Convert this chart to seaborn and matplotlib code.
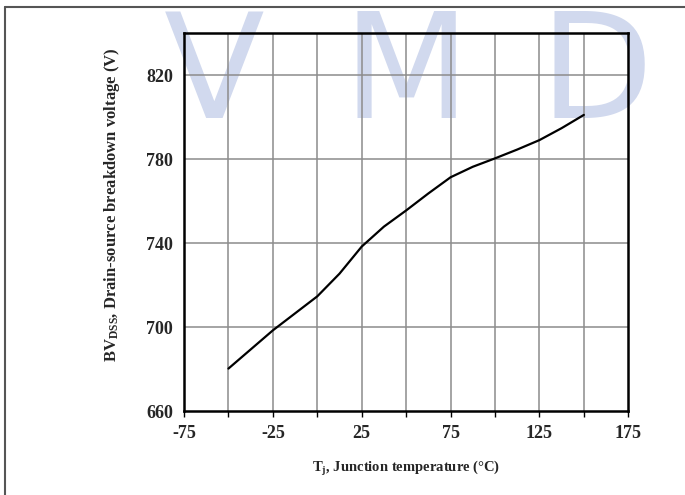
import matplotlib
matplotlib.use("Agg")
import matplotlib.pyplot as plt
from matplotlib.lines import Line2D
import seaborn as sns
import pandas as pd

# Breakdown voltage vs junction temperature
temp_c = [-50, -25, 0, 12.5, 25, 37.5, 50, 62.5, 75, 87.5, 100, 112.5, 125, 137.5, 150]
bvdss_v = [680.2, 698.4, 714.6, 725.4, 738.3, 747.8, 755.5, 763.6, 771.3, 776.3,
           780.3, 784.5, 789.0, 794.7, 801.0]
x_ticks = [-75, -25, 25, 75, 125, 175]
y_ticks = [660, 700, 740, 780, 820]

sns.set_theme(style="whitegrid")
plt.rcParams['font.family'] = ['Liberation Serif', 'DejaVu Serif']
plt.rcParams['mathtext.fontset'] = 'custom'
plt.rcParams['mathtext.rm'] = 'Liberation Serif:bold'
plt.rcParams['mathtext.it'] = 'Liberation Serif:bold'
plt.rcParams['mathtext.bf'] = 'Liberation Serif:bold'

df = pd.DataFrame({"Tj": temp_c, "BV": bvdss_v})

fig = plt.figure(figsize=(6.85, 4.95), dpi=100)
fig.patch.set_facecolor("white")

# watermark behind the plot
wm = dict(fontsize=106, color="#d1d9ee", ha="center", va="baseline", zorder=-5,
          family="DejaVu Sans", weight="normal")
base_y = 1 - 118 / 495
fig.text(214 / 685, base_y, "V", **wm)
fig.text(406 / 685, base_y, "M", **wm)
fig.text(596 / 685, base_y, "D", **wm)

# page frame lines
fig.add_artist(Line2D([5 / 685, 5 / 685], [0, 1 - 7 / 495], color="#555555", lw=1.5))
fig.add_artist(Line2D([5 / 685, 1], [1 - 7 / 495, 1 - 7 / 495], color="#555555", lw=1.5))

ax = fig.add_axes([184 / 685, 84 / 495, 444.3 / 685, 378 / 495])
ax.set_facecolor("none")

sns.lineplot(data=df, x="Tj", y="BV", color="black", linewidth=1.6, ax=ax)

ax.set_xlim(-75, 175)
ax.set_ylim(660, 840)
ax.set_xticks(range(-75, 176, 25), minor=False)
ax.set_xticklabels([str(t) if t in x_ticks else "" for t in range(-75, 176, 25)])
ax.set_yticks(range(660, 841, 20))
ax.set_yticklabels([str(v) if v in y_ticks else "" for v in range(660, 841, 20)])
ax.grid(False)
for t in range(-50, 175, 25):
    ax.axvline(t, color="#8c8c8c", lw=1.1, zorder=0.5)
for v in range(700, 840, 40):
    ax.axhline(v, color="#8c8c8c", lw=1.1, zorder=0.5)

for s in ax.spines.values():
    s.set_color("black")
    s.set_linewidth(1.8)
    s.set_visible(True)

ax.tick_params(axis="x", direction="out", length=4, width=1.0, color="black",
               bottom=True, labelsize=13, pad=6)
ax.tick_params(axis="y", length=0, labelsize=13, pad=8)
for lab in ax.get_xticklabels() + ax.get_yticklabels():
    lab.set_fontweight("bold")

ax.set_xlabel(r"T$_\mathregular{j}$, Junction temperature (°C)", fontsize=10.5,
              fontweight="bold")
ax.set_ylabel(r"BV$_\mathregular{DSS}$, Drain-source breakdown voltage (V)", fontsize=12,
              fontweight="bold")
ax.xaxis.set_label_coords(0.5, -0.128)
ax.yaxis.set_label_coords(-0.14, 0.545)

fig.savefig("out.png", dpi=100)
